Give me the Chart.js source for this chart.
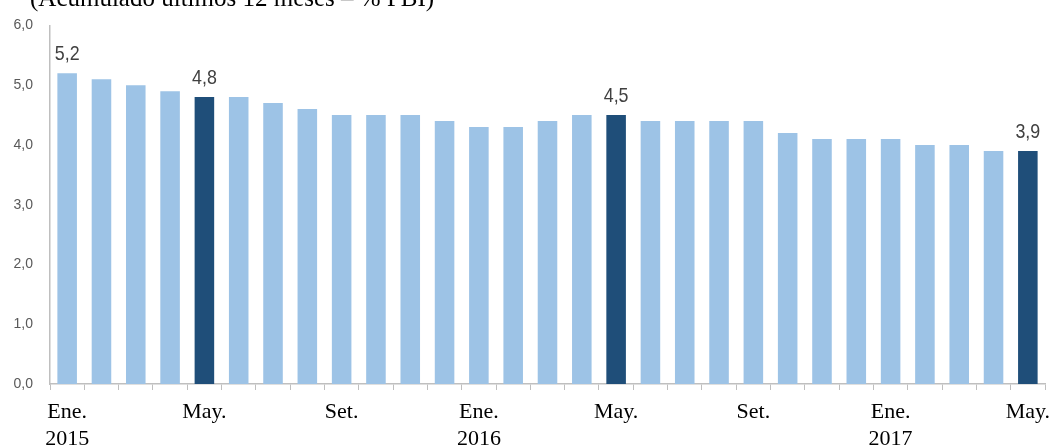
<!DOCTYPE html>
<html>
<head>
<meta charset="utf-8">
<script src="https://cdn.jsdelivr.net/npm/chart.js@4.4.1/dist/chart.umd.min.js"></script>
<style>
  html, body { margin: 0; padding: 0; background: #fff; }
  #wrap { width: 1053px; height: 448px; }
</style>
</head>
<body>
<div id="wrap"><canvas id="grafico"></canvas></div>
<script>
// Datos: acumulado últimos 12 meses, % PBI (Ene. 2015 - May. 2017)
const meses = ['Ene.', 'Feb.', 'Mar.', 'Abr.', 'May.', 'Jun.', 'Jul.', 'Ago.', 'Set.', 'Oct.', 'Nov.', 'Dic.',
               'Ene.', 'Feb.', 'Mar.', 'Abr.', 'May.', 'Jun.', 'Jul.', 'Ago.', 'Set.', 'Oct.', 'Nov.', 'Dic.',
               'Ene.', 'Feb.', 'Mar.', 'Abr.', 'May.'];
const anios = ['2015', '', '', '', '', '', '', '', '', '', '', '',
               '2016', '', '', '', '', '', '', '', '', '', '', '',
               '2017', '', '', '', ''];
const valores = [5.2, 5.1, 5.0, 4.9, 4.8, 4.8, 4.7, 4.6, 4.5, 4.5, 4.5, 4.4,
                 4.3, 4.3, 4.4, 4.5, 4.5, 4.4, 4.4, 4.4, 4.4, 4.2, 4.1, 4.1,
                 4.1, 4.0, 4.0, 3.9, 3.9];
const destacados = [4, 16, 28];          // barras oscuras
const conEtiqueta = [0, 4, 16, 28];      // barras con valor
const mostrarMes = [0, 4, 8, 12, 16, 20, 24, 28];
const titulo = '(Acumulado últimos 12 meses – % PBI)';

const claro = '#9DC3E6';
const oscuro = '#1F4E79';

const fmt = v => v.toFixed(1).replace('.', ',');

// Etiquetas de valores y título (recortado arriba)
const textos = {
    id: 'textos',
    afterDatasetsDraw(chart) {
        const { ctx } = chart;
        const meta = chart.getDatasetMeta(0);
        ctx.save();
        ctx.fillStyle = '#404040';
        ctx.font = '21px "Liberation Sans Narrow", "Liberation Sans", Arial, sans-serif';
        ctx.textAlign = 'center';
        ctx.textBaseline = 'alphabetic';
        conEtiqueta.forEach(i => {
            const bar = meta.data[i];
            // letra estrecha: se comprime en horizontal
            ctx.save();
            ctx.translate(bar.x, bar.y - 13);
            ctx.scale(0.85, 1);
            ctx.fillText(fmt(valores[i]), 0, 0);
            ctx.restore();
        });
        ctx.fillStyle = '#000';
        ctx.font = '25px "Liberation Serif", "Times New Roman", serif';
        ctx.textAlign = 'left';
        ctx.fillText(titulo, 30, 6);
        ctx.restore();
    }
};

const ctx = document.getElementById('grafico').getContext('2d');
window.grafico = new Chart(ctx, {
    type: 'bar',
    data: {
        labels: meses.map((m, i) => [m, anios[i]]),
        datasets: [{
            data: valores,
            backgroundColor: valores.map((_, i) => destacados.includes(i) ? oscuro : claro),
            barPercentage: 0.57,
            categoryPercentage: 1.0
        }]
    },
    options: {
        responsive: true,
        maintainAspectRatio: false,
        animation: false,
        layout: { padding: { top: 23, right: 8, left: 0, bottom: 0 } },
        plugins: {
            legend: { display: false },
            tooltip: { enabled: false }
        },
        scales: {
            x: {
                grid: {
                    offset: true,
                    drawOnChartArea: false,
                    drawTicks: true,
                    tickLength: 6,
                    color: '#BFBFBF'
                },
                border: { color: '#BFBFBF', width: 1.5 },
                ticks: {
                    autoSkip: false,
                    maxRotation: 0,
                    padding: 9,
                    color: '#000',
                    font: { family: '"Liberation Serif", "Times New Roman", serif', size: 22, lineHeight: 1.23 },
                    callback: (v, i) => mostrarMes.includes(i) ? (anios[i] ? [meses[i], anios[i]] : meses[i]) : ''
                },
                afterFit: s => {
                    s.height = 64;
                    s.paddingLeft = 0;
                    s.paddingRight = 0;
                }
            },
            y: {
                min: 0,
                max: 6,
                grid: { display: false, drawTicks: false },
                border: { color: '#BFBFBF', width: 1.5 },
                ticks: {
                    stepSize: 1,
                    padding: 17,
                    color: '#595959',
                    font: { family: '"Liberation Sans", Arial, sans-serif', size: 14 },
                    callback: v => fmt(v)
                },
                afterFit: s => { s.width = 50; }
            }
        }
    },
    plugins: [textos]
});
</script>
</body>
</html>
